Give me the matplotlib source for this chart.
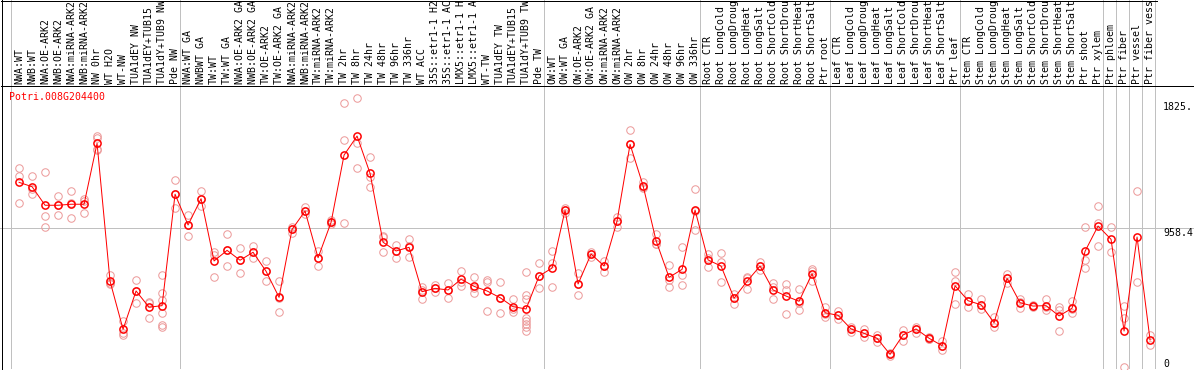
import numpy as np
import matplotlib
matplotlib.use("Agg")
import matplotlib.pyplot as plt
from matplotlib.lines import Line2D

gene_name = "Potri.008G204400"

# ---------------- data ----------------
nw_labels = ["NWA:WT", "NWB:WT", "NWA:OE-ARK2", "NWB:OE-ARK2", "NWA:miRNA-ARK2",
             "NWB:miRNA-ARK2", "NW 0hr", "WT H2O", "WT-NW", "TUA1dEY NW",
             "TUA1dEY+TUB15", "TUA1dY+TUB9 NW", "Pde NW"]
nw_means = [1271, 1241, 1113, 1113, 1120, 1120, 1540, 589, 258, 522, 410, 421, 1189]
nw_reps = [[1368, 1315, 1126], [1313, 1225, 1193], [1342, 1037, 965], [1175, 1113, 1048],
           [1209, 1131, 1025], [1158, 1142, 1058], [1593, 1575, 1500, 1494], [632, 568, 579],
           [315, 230, 216], [596, 522, 441], [448, 439, 334],
           [632, 510, 460, 372, 287, 276], [1287, 1189, 1092]]

tw_labels = ["NWA:WT GA", "NWBWT GA", "TW:WT", "TW:WT GA", "NWA:OE-ARK2 GA",
             "NWB:OE-ARK2 GA", "TW:OE-ARK2", "TW:OE-ARK2 GA", "NWA:miRNA-ARK2 GA",
             "NWB:miRNA-ARK2 GA", "TW:miRNA-ARK2", "TW:miRNA-ARK2 GA", "TW 2hr", "TW 8hr",
             "TW 24hr", "TW 48hr", "TW 96hr", "TW 336hr", "WT ACC", "35S::etr1-1 H2O",
             "35S::etr1-1 ACC", "LMX5::etr1-1 H2O", "LMX5::etr1-1 ACC", "WT-TW",
             "TUA1dEY TW", "TUA1dEY+TUB15", "TUA1dY+TUB9 TW", "Pde TW"]
tw_means = [977, 1158, 729, 802, 734, 789, 658, 478, 947, 1073, 751, 995,
            1459, 1590, 1333, 858, 798, 823, 517, 540, 529, 603, 554,
            522, 476, 414, 398, 625]
tw_reps = [[1044, 977, 901], [1211, 1158, 1106], [789, 770, 616], [913, 802, 694],
           [820, 734, 644], [832, 789, 749], [727, 658, 589], [591, 474, 377],
           [965, 947, 920], [1099, 1073, 1053], [800, 751, 694], [1008, 995, 984],
           [1816, 1561, 994], [1850, 1540, 1368], [1444, 1310, 1237], [901, 892, 789],
           [839, 798, 751], [880, 832, 758], [547, 532, 469], [563, 540, 517],
           [579, 529, 476], [658, 584, 558], [616, 543, 506], [598, 586, 384],
           [584, 476, 370], [469, 398, 379], [653, 492, 469, 338, 315, 292, 272, 248],
           [715, 625, 540]]

ow_labels = ["OW:WT", "OW:WT GA", "OW:OE-ARK2", "OW:OE-ARK2 GA", "OW:miRNA-ARK2",
             "OW:miRNA-ARK2 GA", "OW 2hr", "OW 8hr", "OW 24hr", "OW 48hr", "OW 96hr",
             "OW 336hr"]
ow_means = [680, 1078, 570, 777, 694, 1004, 1533, 1248, 869, 616, 671, 1080]
ow_reps = [[798, 713, 547], [1094, 1078, 1060], [644, 570, 494], [793, 777, 756],
           [731, 694, 655], [1034, 1004, 965], [1632, 1533, 1437], [1275, 1237, 1232],
           [915, 846, 846], [701, 598, 547], [825, 634, 561], [1225, 1073, 942]]

root_labels = ["Root CTR", "Root LongCold", "Root LongDrought", "Root LongHeat",
               "Root LongSalt", "Root ShortCold", "Root ShortDrought", "Root ShortHeat",
               "Root ShortSalt", "Ptr root"]
root_means = [736, 694, 472, 589, 694, 529, 487, 451, 641, 372]
root_reps = [[777, 749, 685], [782, 722, 582], [501, 472, 434], [620, 611, 538],
             [722, 694, 667], [575, 549, 465], [570, 529, 363], [534, 439, 391],
             [671, 660, 589], [412, 360, 345]]

leaf_labels = ["Leaf CTR", "Leaf LongCold", "Leaf LongDrought", "Leaf LongHeat",
               "Leaf LongSalt", "Leaf ShortCold", "Leaf ShortDrought", "Leaf ShortHeat",
               "Leaf ShortSalt", "Ptr leaf"]
leaf_means = [354, 260, 230, 196, 85, 219, 260, 196, 145, 558]
leaf_reps = [[382, 354, 327], [276, 257, 239], [258, 232, 203], [216, 198, 172],
             [92, 85, 76], [253, 219, 179], [276, 260, 234], [207, 194, 189],
             [179, 146, 115], [655, 593, 430]]

stem_labels = ["Stem CTR", "Stem LongCold", "Stem LongDrought", "Stem LongHeat",
               "Stem LongSalt", "Stem ShortCold", "Stem ShortDrought", "Stem ShortHeat",
               "Stem ShortSalt", "Ptr shoot", "Ptr xylem"]
stem_means = [455, 427, 303, 609, 441, 418, 421, 350, 403, 796, 970]
stem_reps = [[501, 453, 414], [467, 425, 396], [345, 301, 272], [639, 611, 575],
             [465, 443, 407], [425, 418, 409], [465, 412, 391], [414, 391, 246],
             [453, 398, 368], [961, 736, 683], [1106, 989, 832]]

cell_labels = ["Ptr phloem", "Ptr fiber", "Ptr vessel", "Ptr fiber vessel"]
cell_means = [878, 246, 894, 184]
cell_reps = [[961, 793], [418, 334, 0], [1211, 584], [216, 150]]

ytick_values = [1825, 958.4, 0]
ytick_labels = ["1825.", "958.4", "0"]

# group sizes (each Ptr cell type is its own block)
group_sizes = [len(nw_labels), len(tw_labels), len(ow_labels), len(root_labels),
               len(leaf_labels), len(stem_labels)] + [1] * len(cell_labels)

labels = nw_labels + tw_labels + ow_labels + root_labels + leaf_labels + stem_labels + cell_labels
means = np.array(nw_means + tw_means + ow_means + root_means + leaf_means + stem_means + cell_means, float)
reps = nw_reps + tw_reps + ow_reps + root_reps + leaf_reps + stem_reps + cell_reps

# ---------------- layout ----------------
W, H, DPI = 1194, 370, 100
fig = plt.figure(figsize=(W / DPI, H / DPI), dpi=DPI)
fig.patch.set_facecolor("white")

PX0, STEP = 11.0, 13.0          # pixel of first block boundary, pixels per sample
Y0_PX, VPP = 366.7, 6.894       # pixel row of value 0, value per pixel


def u_of_px(px):
    return (px - PX0) / STEP


def v_of_py(py):
    return (Y0_PX - py) * VPP


plot_top, plot_bot = 85, 369
ax = fig.add_axes([0, (H - plot_bot) / H, 1, (plot_bot - plot_top) / H])
ax.set_xlim(u_of_px(0), u_of_px(W))
ax.set_ylim(v_of_py(plot_bot), v_of_py(plot_top))
ax.axis("off")

lab_ax = fig.add_axes([0, (H - plot_top) / H, 1, plot_top / H])
lab_ax.set_xlim(u_of_px(0), u_of_px(W))
lab_ax.set_ylim(0, plot_top)
lab_ax.axis("off")

mono = "DejaVu Sans Mono"
fs = 7.1
px = 72.0 / DPI
MAX_CHARS = 14   # the label strip only has room for this many characters

x = np.arange(len(labels)) + 0.62
boundaries = np.concatenate([[0], np.cumsum(group_sizes)])

grid_col = "#c0c0c0"
for b in boundaries:
    ax.axvline(b, color=grid_col, lw=1 * px, antialiased=False, zorder=1)
    lab_ax.axvline(b, color=grid_col, lw=1 * px, antialiased=False, zorder=1)
ax.axhline(ytick_values[1], color=grid_col, lw=1 * px, antialiased=False, zorder=1)

# replicate points
rx = np.concatenate([[xi] * len(r) for xi, r in zip(x, reps)])
ry = np.concatenate([r for r in reps]).astype(float)
ax.plot(rx, ry, linestyle="none", marker="o", ms=5.4, mfc="none",
        mec="#ec9a9a", mew=1.0 * px, zorder=2, clip_on=True)

# mean line and markers
ax.plot(x, means, color="#ff0000", lw=1.0 * px, zorder=3)
ax.plot(x, means, linestyle="none", marker="o", ms=5.2, mfc="none",
        mec="#ff0000", mew=1.5 * px, zorder=4)

# y labels on the right
for v, t in zip(ytick_values, ytick_labels):
    ax.text(u_of_px(1163), v, t, ha="left", va="baseline" if v == 0 else "top",
            fontsize=fs, family=mono, color="black", clip_on=False)

# sample labels (shown truncated to the strip height, as in the original)
for xi, t in zip(x, labels):
    lab_ax.text(xi, 1.5, t[:MAX_CHARS].rstrip(), rotation=90, ha="center", va="bottom",
                fontsize=fs, family=mono, color="black")

# gene name
fig.text(9 / W, 1 - 96.5 / H, gene_name, ha="left", va="center",
         fontsize=fs, family=mono, color="#ff0000")


# frame lines
def fig_line(x0, y0, x1, y1, color="black"):
    fig.add_artist(Line2D([x0 / W, x1 / W], [1 - y0 / H, 1 - y1 / H], color=color,
                          lw=1 * px, transform=fig.transFigure, antialiased=False))


fig_line(1.5, 0, 1.5, 370)
fig_line(1, 0.5, 1157, 0.5)
fig_line(1, 85.5, W, 85.5)
fig_line(1, 369.5, 1157, 369.5)
fig_line(1193.5, 0, 1193.5, 85.5)

fig.savefig("out.png", dpi=DPI, facecolor="white")
